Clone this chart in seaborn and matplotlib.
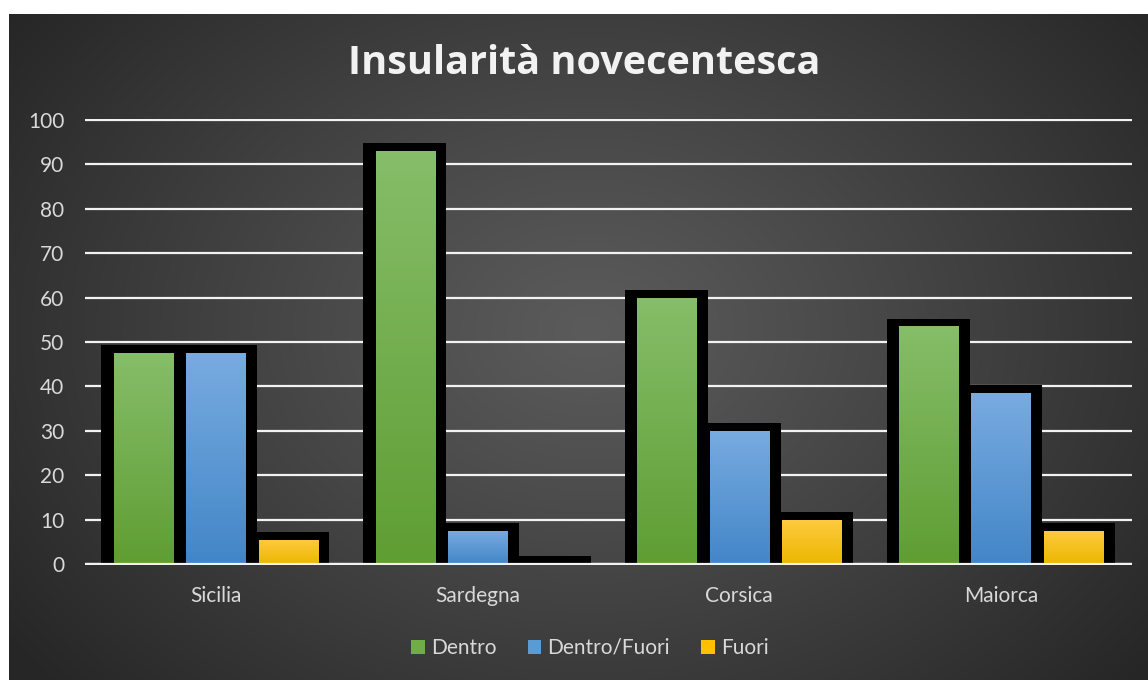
import numpy as np
import pandas as pd
import matplotlib
matplotlib.use("Agg")
import matplotlib.pyplot as plt
from matplotlib.patches import Rectangle, Patch
from matplotlib.colors import to_rgb
import seaborn as sns

# ---- data ----
isole = ["Sicilia", "Sardegna", "Corsica", "Maiorca"]
serie = ["Dentro", "Dentro/Fuori", "Fuori"]
dentro = [47.5, 93.0, 60.0, 53.5]
dentro_fuori = [47.5, 7.5, 30.0, 38.5]
fuori = [5.5, 0.0, 10.0, 7.5]
yticks = [0, 10, 20, 30, 40, 50, 60, 70, 80, 90, 100]
titolo = "Insularità novecentesca"

base_cols = ["#70ad47", "#5b9bd5", "#ffc000"]
grad_top = ["#86bd69", "#78abe0", "#ffca40"]
grad_bot = ["#5f9e33", "#4386c8", "#ebb800"]

df = pd.DataFrame({
    "isola": isole * 3,
    "tipo": [s for s in serie for _ in isole],
    "valore": dentro + dentro_fuori + fuori,
})

sns.set_theme(style="dark")
plt.rcParams["font.family"] = ["Lato", "DejaVu Sans"]

W, H = 1148, 680
fig = plt.figure(figsize=(W / 100, H / 100), dpi=100)
fig.patch.set_facecolor("white")

# background radial gradient
bg = fig.add_axes([0, 0, 1, 1], zorder=-5)
yy, xx = np.mgrid[0:H, 0:W]
cx, cy = 590, 330
r = np.sqrt(((xx - cx) / 1.0) ** 2 + ((yy - cy) / 0.75) ** 2)
t = np.clip(r / 720, 0, 1) ** 1.1
c0 = np.array(to_rgb("#5b5b5b"))
c1 = np.array(to_rgb("#262626"))
img = c0[None, None, :] * (1 - t[..., None]) + c1[None, None, :] * t[..., None]
img[:14, :, :] = 1.0
img[:, :9, :] = 1.0
bg.imshow(img, extent=[0, 1, 0, 1], aspect="auto", origin="upper")
bg.set_axis_off()

# main axes
px_per_unit = 444 / 100
ypad = 0.3
ax_bottom_px = 564 + ypad * px_per_unit
ax_h_px = (100 + 2 * ypad) * px_per_unit
ax = fig.add_axes([85 / W, (H - ax_bottom_px) / H, (1132 - 85) / W, ax_h_px / H])
ax.set_facecolor("none")

sns.barplot(data=df, x="isola", y="valore", hue="tipo", hue_order=serie,
            palette=base_cols, width=0.83, gap=0.18, legend=False,
            linewidth=0, edgecolor="none", ax=ax, zorder=3, errorbar=None)

ax.set_xlim(-0.5, 3.5)
ax.set_ylim(-ypad, 100 + ypad)

unit_x = 1047 / 4
dl, dr, dt = 12.5 / unit_x, 11.5 / unit_x, 7.7 / px_per_unit

for i, cont in enumerate(ax.containers):
    top = np.array(to_rgb(grad_top[i]))
    bot = np.array(to_rgb(grad_bot[i]))
    g = np.linspace(0, 1, 64)[:, None]
    grad = (top[None, :] * (1 - g) + bot[None, :] * g)[:, None, :]
    for p in cont.patches:
        x, w, h = p.get_x(), p.get_width(), p.get_height()
        ax.add_patch(Rectangle((x - dl, 0), w + dl + dr, h + dt,
                               facecolor="black", edgecolor="none", zorder=2))
        if h > 0:
            im = ax.imshow(grad, extent=(x, x + w, 0, h), aspect="auto",
                           origin="upper", zorder=3.1)
            im.set_clip_path(p)

ax.set_xlim(-0.5, 3.5)
ax.set_ylim(-ypad, 100 + ypad)

ax.set_yticks(yticks)
ax.grid(axis="y", color="#f2f2f2", linewidth=1.6)
ax.grid(axis="x", visible=False)
ax.set_axisbelow(True)
ax.axhline(0, color="#f2f2f2", linewidth=1.6, zorder=4)
for s in ax.spines.values():
    s.set_visible(False)
ax.tick_params(axis="both", length=0, colors="#d9d9d9", labelsize=15)
ax.tick_params(axis="y", pad=15)
ax.tick_params(axis="x", pad=15)
ax.set_xlabel("")
ax.set_ylabel("")

fig.text(584 / W, 1 - 63 / H, titolo, ha="center", va="center",
         fontsize=28.5, fontweight="bold", color="#f2f2f2",
         family=["Open Sans", "DejaVu Sans"])

handles = [Patch(facecolor=c, edgecolor="none") for c in base_cols]
fig.legend(handles, serie, loc="center", bbox_to_anchor=(590 / W, 1 - 648 / H),
           ncol=3, frameon=False, handlelength=0.65, handleheight=0.65,
           handletextpad=0.3, columnspacing=1.5, fontsize=15,
           labelcolor="#d9d9d9")

fig.savefig("out.png", dpi=100)
